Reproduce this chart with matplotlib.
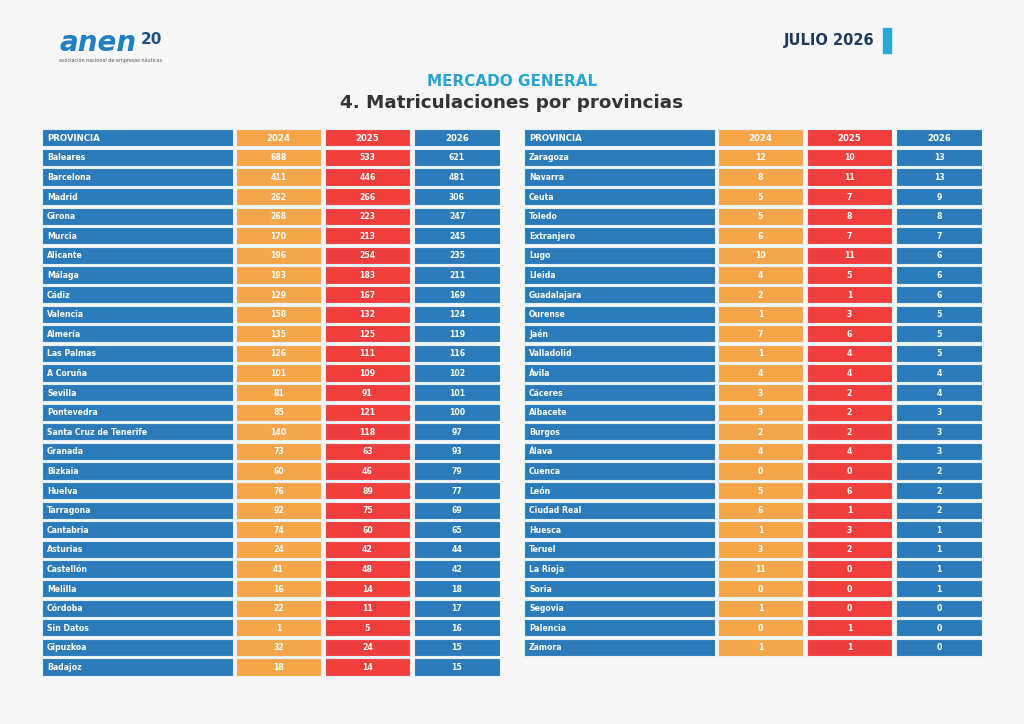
import matplotlib
matplotlib.use("Agg")
import matplotlib.pyplot as plt

# data
years = ["2024", "2025", "2026"]

left_prov = ["Baleares", "Barcelona", "Madrid", "Girona", "Murcia", "Alicante", "Málaga",
             "Cádiz", "Valencia", "Almería", "Las Palmas", "A Coruña", "Sevilla",
             "Pontevedra", "Santa Cruz de Tenerife", "Granada", "Bizkaia", "Huelva",
             "Tarragona", "Cantabria", "Asturias", "Castellón", "Melilla", "Córdoba",
             "Sin Datos", "Gipuzkoa", "Badajoz"]
left_2024 = [688, 411, 262, 268, 170, 196, 193, 129, 158, 135, 126, 101, 81, 85, 140, 73,
             60, 76, 92, 74, 24, 41, 16, 22, 1, 32, 18]
left_2025 = [533, 446, 266, 223, 213, 254, 183, 167, 132, 125, 111, 109, 91, 121, 118, 63,
             46, 89, 75, 60, 42, 48, 14, 11, 5, 24, 14]
left_2026 = [621, 481, 306, 247, 245, 235, 211, 169, 124, 119, 116, 102, 101, 100, 97, 93,
             79, 77, 69, 65, 44, 42, 18, 17, 16, 15, 15]

right_prov = ["Zaragoza", "Navarra", "Ceuta", "Toledo", "Extranjero", "Lugo", "Lleida",
              "Guadalajara", "Ourense", "Jaén", "Valladolid", "Ávila", "Cáceres", "Albacete",
              "Burgos", "Álava", "Cuenca", "León", "Ciudad Real", "Huesca", "Teruel",
              "La Rioja", "Soria", "Segovia", "Palencia", "Zamora"]
right_2024 = [12, 8, 5, 5, 6, 10, 4, 2, 1, 7, 1, 4, 3, 3, 2, 4, 0, 5, 6, 1, 3, 11, 0, 1, 0, 1]
right_2025 = [10, 11, 7, 8, 7, 11, 5, 1, 3, 6, 4, 4, 2, 2, 2, 4, 0, 6, 1, 3, 2, 0, 0, 0, 1, 1]
right_2026 = [13, 13, 9, 8, 7, 6, 6, 6, 5, 5, 5, 4, 4, 3, 3, 3, 2, 2, 2, 1, 1, 1, 1, 0, 0, 0]

BG = "#f7f7f7"
BLUE = "#2b7bba"
ORANGE = "#f5a54a"
RED = "#f03e3c"
EDGE = "#e6f0f8"

W, H = 1024, 724
fig = plt.figure(figsize=(W / 100, H / 100), dpi=100, facecolor=BG)

# column layout in pixels, relative to table left edge
col_left = [0, 194, 283, 372]
col_width = [191, 85, 85, 86]
col_color = [BLUE, ORANGE, RED, BLUE]
ROW_PITCH = 19.6
TABLE_W = 458


def draw_table(x0, y0, prov, v24, v25, v26):
    nrows = len(prov) + 1
    ax = fig.add_axes([x0 / W, 1 - (y0 + nrows * ROW_PITCH) / H, TABLE_W / W, nrows * ROW_PITCH / H])
    ax.set_xlim(0, TABLE_W)
    ax.set_ylim(nrows, 0)
    ax.axis("off")
    rows = list(range(nrows))
    header = ["PROVINCIA"] + years
    columns = [prov, v24, v25, v26]
    for c in range(4):
        ax.barh([r + 0.45 for r in rows], col_width[c], left=col_left[c], height=0.88,
                color=col_color[c], edgecolor=EDGE, linewidth=0.8)
        for r in rows:
            if r == 0:
                txt, size = header[c], 6.2
            else:
                txt, size = str(columns[c][r - 1]), 5.6
            if c == 0:
                ax.text(col_left[c] + 5, r + 0.47, txt, color="white", fontsize=size,
                        fontweight="bold", ha="left", va="center")
            else:
                ax.text(col_left[c] + col_width[c] / 2, r + 0.47, txt, color="white",
                        fontsize=size, fontweight="bold", ha="center", va="center")


draw_table(42, 129, left_prov, left_2024, left_2025, left_2026)
draw_table(524, 129, right_prov, right_2024, right_2025, right_2026)

# titles
fig.text(512 / W, 1 - 81 / H, "MERCADO GENERAL", color="#27a3d4", fontsize=11,
         fontweight="bold", ha="center", va="center")
fig.text(512 / W, 1 - 103 / H, "4. Matriculaciones por provincias", color="#333333",
         fontsize=13.2, fontweight="bold", ha="center", va="center")

# date tag
fig.text(874 / W, 1 - 41 / H, "JULIO 2026", color="#1b3a5c", fontsize=10.5,
         fontweight="bold", ha="right", va="center")
fig.patches.append(plt.Rectangle((883 / W, 1 - 53 / H), 8 / W, 25 / H,
                                 transform=fig.transFigure, color="#2aa8d8"))

# logo, approximated with text
fig.text(60 / W, 1 - 43 / H, "anen", color="#1f7fc0", fontsize=20, fontweight="bold",
         style="italic", ha="left", va="center")
fig.text(141 / W, 1 - 39 / H, "20", color="#1b4f80", fontsize=11, fontweight="bold",
         ha="left", va="center")
fig.text(111 / W, 1 - 60 / H, "asociación nacional de empresas náuticas", color="#555555",
         fontsize=3.5, ha="center", va="center")

fig.savefig("out.png", dpi=100, facecolor=BG)
